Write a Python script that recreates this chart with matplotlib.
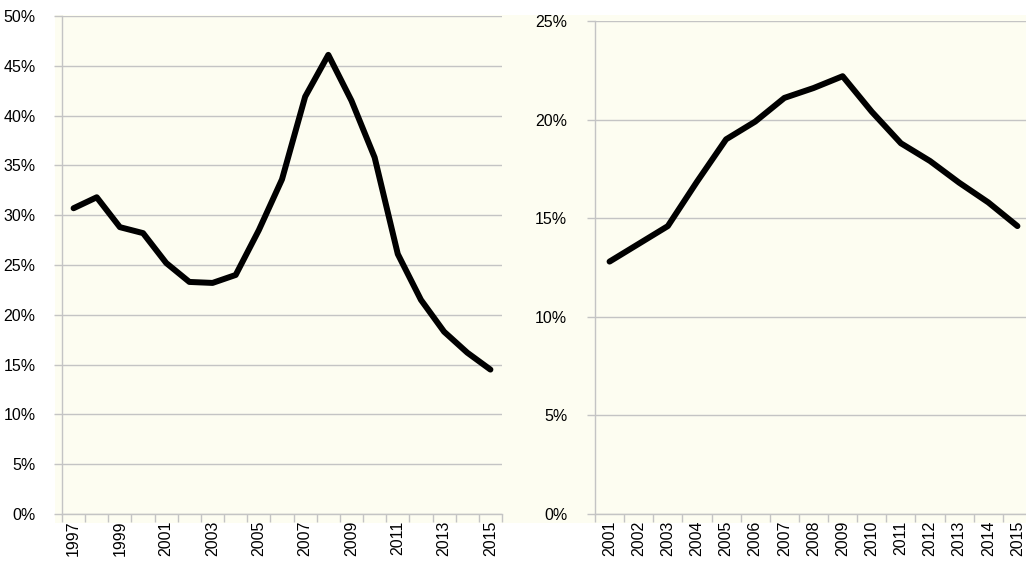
import numpy as np
import matplotlib.pyplot as plt
from matplotlib.patches import Rectangle
from matplotlib.ticker import FixedLocator, FuncFormatter, NullFormatter

plt.rcParams["font.family"] = ["Liberation Sans", "DejaVu Sans"]
plt.rcParams["font.size"] = 11.5

# left panel
years_a = list(range(1997, 2016))
share_a = [30.7, 31.8, 28.8, 28.2, 25.2, 23.3, 23.2, 24.0, 28.5, 33.6,
           41.9, 46.1, 41.5, 35.8, 26.1, 21.5, 18.3, 16.2, 14.5]

# right panel
years_b = list(range(2001, 2016))
share_b = [12.8, 13.7, 14.6, 16.85, 19.0, 19.9, 21.1, 21.6, 22.2, 20.4,
           18.8, 17.9, 16.8, 15.8, 14.6]

W, H = 1026, 561
bg = "#fdfdf1"
grid_c = "#c4c4c4"

fig = plt.figure(figsize=(W / 100, H / 100), dpi=100)
fig.patches.append(Rectangle((55 / W, (H - 523) / H), (W - 55) / W, (523 - 15) / H,
                             transform=fig.transFigure, facecolor=bg,
                             edgecolor="none", zorder=-10))


def style(ax, years, vals, ymax, ystep, label_every, ypad):
    n = len(years)
    x = np.arange(n)
    ax.set_facecolor("none")
    ax.plot(x, vals, color="black", lw=4.3, solid_joinstyle="round",
            solid_capstyle="round", zorder=3, clip_on=False)
    ax.set_xlim(-0.5, n - 0.5)
    ax.set_ylim(0, ymax)
    ax.set_yticks(np.arange(0, ymax + 0.1, ystep))
    ax.yaxis.set_major_formatter(FuncFormatter(lambda v, p: "%d%%" % v))
    ax.yaxis.grid(True, color=grid_c, lw=1)
    ax.set_axisbelow(True)
    for s in ["top", "right"]:
        ax.spines[s].set_visible(False)
    for s in ["left", "bottom"]:
        ax.spines[s].set_color(grid_c)
        ax.spines[s].set_linewidth(1)
    ax.tick_params(axis="y", length=6, width=1, color=grid_c, pad=ypad)
    ax.xaxis.set_major_locator(FixedLocator(np.arange(-0.5, n, 1.0)))
    ax.xaxis.set_major_formatter(NullFormatter())
    ax.tick_params(axis="x", which="major", length=6, width=1, color=grid_c)
    pos = [i for i in range(n) if i % label_every == 0]
    ax.xaxis.set_minor_locator(FixedLocator(pos))
    ax.set_xticklabels([str(years[i]) for i in pos], minor=True, rotation=90)
    ax.tick_params(axis="x", which="minor", length=0, pad=5)


ax1 = fig.add_axes([62 / W, 47 / H, 440 / W, 498 / H])
style(ax1, years_a, share_a, 50, 5, 2, 13)

ax2 = fig.add_axes([595 / W, 47 / H, 437 / W, 493 / H])
style(ax2, years_b, share_b, 25, 5, 1, 14)

fig.savefig("out.png", dpi=100)
